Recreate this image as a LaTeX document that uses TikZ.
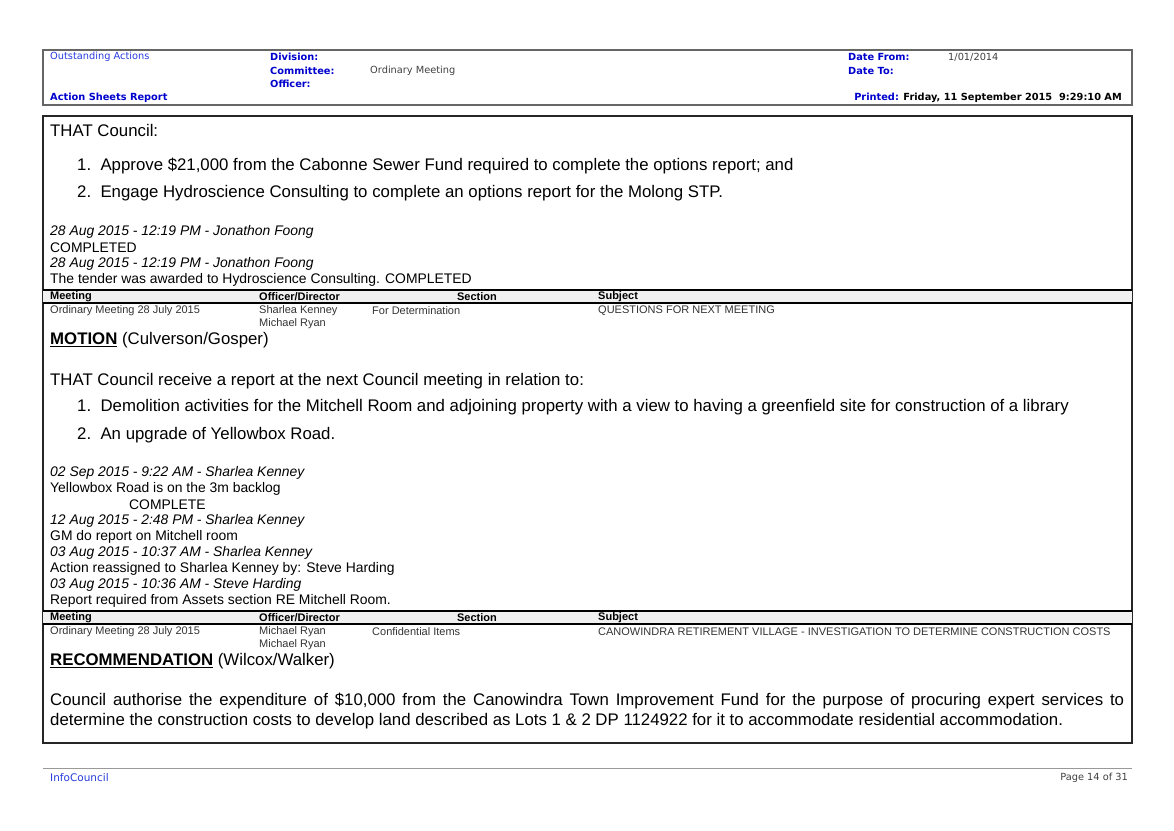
\documentclass[tikz,border=0pt]{standalone}
\usepackage{fontspec}
\setmainfont{Liberation Sans}
\newfontfamily\verd{DejaVu Sans}
\definecolor{hdblue}{RGB}{0,0,205}
\definecolor{lnblue}{RGB}{40,60,220}
\begin{document}
\begin{tikzpicture}[x=1pt,y=-1pt,
  every node/.style={inner sep=0pt, anchor=west},
  hd/.style={font=\verd\fontsize{9.8}{11}\selectfont\bfseries, text=hdblue},
  hv/.style={font=\verd\fontsize{9.8}{11}\selectfont, text=black!75},
  body/.style={font=\fontsize{16.8}{19.5}\selectfont},
  note/.style={font=\fontsize{13.9}{15}\selectfont},
  noteit/.style={font=\fontsize{13.9}{15}\selectfont\itshape},
  th/.style={font=\fontsize{11}{12}\selectfont\bfseries},
  td/.style={font=\fontsize{11}{12}\selectfont, text=black!80}]
\useasboundingbox (0,0) rectangle (1174,830);
% header
\draw[black!60, line width=1.2] (43,50) rectangle (1132,105);
\node[font=\verd\fontsize{9.8}{11}\selectfont, text=lnblue] (oa) at (50,57) {Outstanding Actions};
\node[hd] (asr) at (50,98) {Action Sheets Report};
\node[hd] (div) at (270,57) {Division:};
\node[hd] (com) at (270,71) {Committee:};
\node[hv] (comv) at (370,71) {Ordinary Meeting};
\node[hd] (off) at (270,84) {Officer:};
\node[hd] (df) at (848,57) {Date From:};
\node[hv] (dfv) at (948,57) {1/01/2014};
\node[hd] (dt) at (848,71) {Date To:};
\node[hd, anchor=east] (pr) at (1122,98) {Printed: \textcolor{black}{Friday, 11 September 2015\ \ 9:29:10 AM}};
% main box
\draw[black!85, line width=1.5] (43,116) rectangle (1132,743);
\node[body] (t1) at (50,130) {THAT Council:};
\node[body] (t2) at (77,166) {1.\ \ Approve \$21,000 from the Cabonne Sewer Fund required to complete the options report; and};
\node[body] (t3) at (77,193) {2.\ \ Engage Hydroscience Consulting to complete an options report for the Molong STP.};
\node[noteit] (n1) at (50,232) {28 Aug 2015 - 12:19 PM - Jonathon Foong};
\node[note] (n2) at (50,248) {COMPLETED};
\node[noteit] (n3) at (50,264) {28 Aug 2015 - 12:19 PM - Jonathon Foong};
\node[note] (n4) at (50,280) {The tender was awarded to Hydroscience Consulting. COMPLETED};
% table 1
\fill[black!6] (43,290) rectangle (1132,303);
\draw[line width=1.2] (43,290) -- (1132,290) (43,303) -- (1132,303);
\node[th] (m1) at (50,297) {Meeting};
\node[th] (o1) at (259,297) {Officer/Director};
\node[th, anchor=center] (s1) at (477,297) {Section};
\node[th] (u1) at (598,297) {Subject};
\node[td] (m1v) at (50,311) {Ordinary Meeting 28 July 2015};
\node[td] (o1v) at (259,311) {Sharlea Kenney};
\node[td] (o1w) at (259,324) {Michael Ryan};
\node[td] (s1v) at (372,311) {For Determination};
\node[td] (u1v) at (598,311) {QUESTIONS FOR NEXT MEETING};
\node[body] (mo) at (50,340) {\textbf{\underline{MOTION}} (Culverson/Gosper)};
\node[body] (r1) at (50,381) {THAT Council receive a report at the next Council meeting in relation to:};
\node[body] (r2) at (77,407) {1.\ \ Demolition activities for the Mitchell Room and adjoining property with a view to having a greenfield site for construction of a library};
\node[body] (r3) at (77,435) {2.\ \ An upgrade of Yellowbox Road.};
\node[noteit] (p1) at (50,473) {02 Sep 2015 - 9:22 AM - Sharlea Kenney};
\node[note] (p2) at (50,489) {Yellowbox Road is on the 3m backlog};
\node[note] (p3) at (129,505) {COMPLETE};
\node[noteit] (p4) at (50,521) {12 Aug 2015 - 2:48 PM - Sharlea Kenney};
\node[note] (p5) at (50,537) {GM do report on Mitchell room};
\node[noteit] (p6) at (50,553) {03 Aug 2015 - 10:37 AM - Sharlea Kenney};
\node[note] (p7) at (50,569) {Action reassigned to Sharlea Kenney by: Steve Harding};
\node[noteit] (p8) at (50,585) {03 Aug 2015 - 10:36 AM - Steve Harding};
\node[note] (p9) at (50,601) {Report required from Assets section RE Mitchell Room.};
% table 2
\fill[black!6] (43,611) rectangle (1132,624);
\draw[line width=1.2] (43,611) -- (1132,611) (43,624) -- (1132,624);
\node[th] (m2) at (50,618) {Meeting};
\node[th] (o2) at (259,618) {Officer/Director};
\node[th, anchor=center] (s2) at (477,618) {Section};
\node[th] (u2) at (598,618) {Subject};
\node[td] (m2v) at (50,632) {Ordinary Meeting 28 July 2015};
\node[td] (o2v) at (259,632) {Michael Ryan};
\node[td] (o2w) at (259,645) {Michael Ryan};
\node[td] (s2v) at (372,632) {Confidential Items};
\node[td] (u2v) at (598,632) {CANOWINDRA RETIREMENT VILLAGE - INVESTIGATION TO DETERMINE CONSTRUCTION COSTS};
\node[body] (rec) at (50,661) {\textbf{\underline{RECOMMENDATION}} (Wilcox/Walker)};
\node[body, anchor=north west, text width=1074, align=justify] (par) at (50,693) {Council authorise the expenditure of \$10,000 from the Canowindra Town Improvement Fund for the purpose of procuring expert services to determine the construction costs to develop land described as Lots 1 \& 2 DP 1124922 for it to accommodate residential accommodation.};
% footer
\draw[black!40] (43,768) -- (1132,768);
\node[font=\verd\fontsize{10.5}{12}\selectfont, text=lnblue] (ic) at (50,778) {InfoCouncil};
\node[hv, anchor=east] (pg) at (1128,778) {Page 14 of 31};
\end{tikzpicture}
\end{document}
